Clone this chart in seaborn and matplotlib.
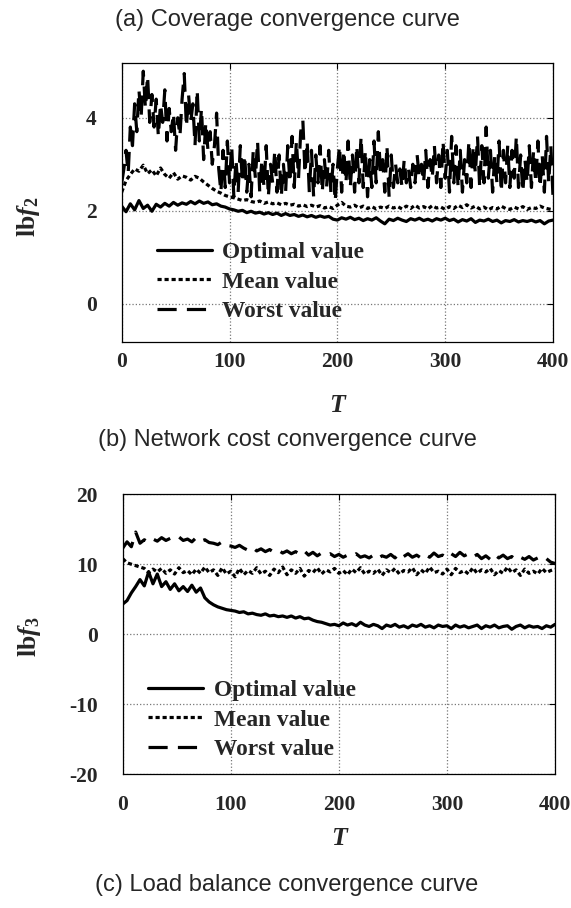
import numpy as np
import pandas as pd
import matplotlib
matplotlib.use("Agg")
import matplotlib.pyplot as plt
import seaborn as sns

# ---------------- data ----------------
T_MAX = 400
labels = ["Optimal value", "Mean value", "Worst value"]

# (a) lb f2 -- coverage
a_optimal = [2.10, 1.98, 2.15, 2.02, 2.22, 2.05, 2.12, 1.99, 2.14, 2.08,
             2.16, 2.10, 2.18, 2.12, 2.17, 2.14, 2.20, 2.15, 2.21, 2.16,
             2.19, 2.13, 2.15, 2.10, 2.08, 2.04, 2.02, 1.99, 2.01, 1.96,
             1.99, 1.95, 1.97, 1.93, 1.96, 1.92, 1.95, 1.90, 1.94, 1.90,
             1.92, 1.88, 1.91, 1.87, 1.90, 1.86, 1.89, 1.86, 1.88, 1.82,
             1.80, 1.85, 1.82, 1.86, 1.81, 1.84, 1.79, 1.83, 1.80, 1.85,
             1.78, 1.72, 1.82, 1.79, 1.84, 1.80, 1.77, 1.83, 1.80, 1.84,
             1.79, 1.82, 1.78, 1.83, 1.80, 1.84, 1.79, 1.82, 1.76, 1.81,
             1.78, 1.83, 1.75, 1.80, 1.78, 1.82, 1.77, 1.80, 1.74, 1.79,
             1.77, 1.81, 1.76, 1.79, 1.77, 1.80, 1.76, 1.79, 1.72, 1.78,
             1.80]
a_mean = [2.40, 2.65, 2.78, 2.90, 2.85, 2.98, 2.80, 2.88, 2.75, 2.92,
          2.78, 2.70, 2.82, 2.68, 2.75, 2.72, 2.66, 2.74, 2.70, 2.62,
          2.55, 2.48, 2.42, 2.38, 2.33, 2.30, 2.28, 2.25, 2.22, 2.24,
          2.20, 2.18, 2.21, 2.16, 2.19, 2.15, 2.17, 2.13, 2.16, 2.12,
          2.14, 2.10, 2.13, 2.09, 2.12, 2.08, 2.11, 2.06, 2.09, 2.05,
          2.12, 2.18, 2.10, 2.08, 2.12, 2.06, 2.10, 2.05, 2.09, 2.04,
          2.08, 2.05, 2.10, 2.06, 2.09, 2.04, 2.10, 2.05, 2.12, 2.06,
          2.09, 2.04, 2.11, 2.06, 2.08, 2.03, 2.09, 2.05, 2.12, 2.07,
          2.13, 2.06, 2.10, 2.04, 2.08, 2.02, 2.07, 2.04, 2.10, 2.05,
          2.03, 2.08, 2.04, 2.09, 2.03, 2.07, 2.05, 2.10, 2.06, 2.04,
          2.02]
a_worst = [2.6, 2.9, 3.3, 2.8, 3.8, 3.4, 4.3, 3.7, 4.6, 4.0,
           5.0, 4.2, 4.9, 3.9, 4.5, 3.8, 4.4, 3.6, 4.3, 3.9,
           4.6, 3.5, 4.2, 3.7, 4.1, 3.3, 4.0, 3.6, 4.4, 4.95,
           3.8, 4.5, 3.9, 4.3, 3.4, 4.6, 3.5, 4.2, 3.1, 3.9,
           3.3, 3.7, 3.0, 3.4, 4.1,
           2.9, 2.4, 3.3, 2.5, 3.5, 2.6, 3.4, 2.3, 3.1, 2.4,
           3.4, 2.6, 3.2, 2.4, 3.0, 2.3, 3.3, 2.7, 3.5, 2.4,
           3.1, 2.5, 3.4, 2.3, 3.0, 2.6, 3.3, 2.4, 3.2, 2.3,
           3.0, 2.4, 3.4, 2.6, 3.6, 2.5, 3.5, 2.7, 3.7, 3.95,
           2.8, 3.5, 2.4, 3.3, 2.3, 3.2, 2.6, 3.4, 2.4, 3.1,
           2.5, 3.3, 2.4, 3.0, 2.2, 2.9, 3.4, 2.4, 3.3, 2.6,
           3.5, 2.5, 3.2, 2.4, 3.4, 2.6, 3.6, 2.5, 3.3, 2.3,
           3.1, 2.5, 3.5, 2.6, 3.7, 2.8, 3.1, 2.4, 3.4, 2.3,
           3.2, 2.5, 3.0, 2.6, 2.9, 2.5, 3.1, 2.6, 2.9, 2.5,
           3.0, 2.6, 3.2, 2.7, 3.0, 2.6, 3.3, 2.5, 3.1, 2.7,
           3.4, 2.6, 3.2, 2.5, 3.5, 2.7, 3.3, 2.4, 3.6, 2.6,
           3.4, 2.5, 3.3, 2.4, 3.1, 2.6, 3.5, 2.5, 3.4, 2.8,
           3.6, 2.5, 3.4, 2.6, 3.8, 2.7, 3.3, 2.4, 3.2, 2.6,
           3.5, 2.4, 3.3, 2.6, 3.4, 2.5, 3.3, 2.7, 3.6, 2.5,
           3.2, 2.4, 3.1, 2.6, 3.4, 2.5, 3.3, 2.6, 3.5, 2.5,
           3.2, 2.4, 3.6, 2.6, 3.4, 2.3]

# (b) lb f3 -- network cost
b_optimal = [4.3, 4.8, 5.9, 6.8, 7.8, 6.9, 8.9, 7.2, 8.6, 6.8,
             7.5, 6.4, 7.2, 6.2, 6.8, 6.1, 7.0, 6.0, 6.6, 5.2,
             4.6, 4.2, 3.9, 3.7, 3.5, 3.4, 3.3, 3.1, 3.2, 2.9,
             3.0, 2.8, 2.7, 2.9, 2.6, 2.7, 2.5, 2.6, 2.4, 2.6,
             2.3, 2.5, 2.2, 2.3, 2.0, 1.8, 1.7, 1.5, 1.3, 1.4,
             1.2, 1.6, 1.3, 1.5, 1.2, 1.7, 1.3, 1.1, 1.4, 1.2,
             0.8, 1.3, 1.1, 1.4, 1.0, 1.2, 0.9, 1.3, 1.1, 1.4,
             1.0, 1.2, 0.9, 1.3, 1.1, 1.2, 0.8, 1.3, 1.0, 1.2,
             0.9, 1.1, 1.3, 0.8, 1.2, 1.0, 1.3, 0.9, 1.1, 1.2,
             0.7, 1.1, 1.3, 0.9, 1.2, 1.0, 1.1, 0.8, 1.2, 1.0,
             1.4]
b_mean = [10.8, 10.2, 10.0, 9.8, 9.6, 9.4, 8.8, 9.3, 8.9, 9.4,
          8.7, 9.2, 8.6, 9.5, 8.8, 9.1, 8.5, 9.3, 8.7, 9.6,
          8.8, 9.2, 8.4, 9.5, 8.6, 9.0, 8.2, 9.4, 8.5, 9.1,
          8.7, 9.5, 8.6, 9.0, 8.4, 9.3, 8.8, 9.6, 8.5, 9.2,
          8.7, 9.4, 8.3, 9.1, 8.8, 9.5, 8.6, 9.2, 8.9, 9.4,
          8.7, 9.1, 8.5, 9.3, 8.8, 9.5, 8.6, 9.0, 8.7, 9.3,
          8.4, 9.2, 8.8, 9.4, 8.6, 9.1, 8.9, 9.5, 8.5, 9.2,
          8.7, 9.6, 8.8, 9.0, 8.6, 9.3, 8.5, 9.4, 8.8, 9.1,
          8.6, 9.5, 8.7, 9.2, 8.9, 9.4, 8.5, 9.1, 8.7, 9.6,
          8.8, 9.2, 8.4, 9.3, 8.7, 9.0, 8.6, 9.4, 8.8, 9.1,
          9.3]
b_worst = [12.3, 13.2, 12.5, 14.6, 13.0, 13.5, 13.1, 13.6, 13.3, 13.8,
           13.4, 13.7, 13.5, 13.9, 13.4, 13.6, 13.2, 13.8, 13.3, 13.5,
           13.1, 13.0, 12.8, 13.2, 12.7, 12.6, 12.4, 12.7, 12.3, 12.0,
           12.4, 11.9, 12.2, 11.8, 12.1, 11.7, 12.0, 11.6, 11.9, 11.5,
           11.8, 11.4, 11.9, 11.3, 11.7, 11.2, 11.6, 11.3, 11.5, 11.1,
           11.4, 11.0, 11.3, 11.1, 11.5, 11.0, 11.2, 10.9, 11.3, 10.8,
           11.2, 11.0, 11.4, 10.9, 11.6, 11.1, 11.5, 11.0, 11.3, 10.9,
           11.4, 11.0, 11.6, 11.1, 11.3, 10.9, 11.5, 11.1, 11.7, 11.2,
           11.5, 11.0, 11.4, 10.8, 11.2, 10.7, 11.4, 10.9, 11.3, 10.8,
           11.1, 10.6, 11.0, 10.7, 11.1, 10.6, 10.9, 10.5, 10.8, 10.3,
           10.1]

x_ticks = [0, 100, 200, 300, 400]
a_yticks = [0, 2, 4]
b_yticks = [-20, -10, 0, 10, 20]

# ---------------- style ----------------
sns.set_theme(style="white")
plt.rcParams["font.family"] = ["Liberation Serif", "DejaVu Serif"]
plt.rcParams["mathtext.fontset"] = "custom"
plt.rcParams["mathtext.rm"] = "Liberation Serif:bold"
plt.rcParams["mathtext.bf"] = "Liberation Serif:bold"
plt.rcParams["mathtext.it"] = "Liberation Serif:italic:bold"
plt.rcParams["mathtext.bfit"] = "Liberation Serif:italic:bold"

W, H = 571, 908
fig = plt.figure(figsize=(W / 100, H / 100), dpi=100)

def px_axes(l, t, r, b):
    return fig.add_axes([l / W, 1 - b / H, (r - l) / W, (b - t) / H])

ax_a = px_axes(121.7, 63.3, 553, 342)
ax_b = px_axes(122.7, 494.3, 555, 774)

LW = 2.3
styles = {
    "Optimal value": "-",
    "Mean value": (0, (1.3, 0.9)),
    "Worst value": (0, (6.0, 3.2)),
}

TICK_FS = 15.5
LEG_FS = 16.8
LAB_FS = 18.5

def draw(ax, series, ylim, yticks, ylab, xtick_pad, leg_anchor, ylabel_y, xlabel_y):
    for name, vals in zip(labels, series):
        xs = np.linspace(0, T_MAX, len(vals))
        df = pd.DataFrame({"T": xs, "v": vals})
        sns.lineplot(data=df, x="T", y="v", ax=ax, color="black", linewidth=LW,
                     linestyle=styles[name], label=name, estimator=None, sort=False)
    ax.set_xlim(0, T_MAX)
    ax.set_ylim(*ylim)
    ax.set_xticks(x_ticks)
    ax.set_yticks(yticks)
    ax.set_xticklabels([str(v) for v in x_ticks], fontsize=TICK_FS, fontweight="bold")
    ax.set_yticklabels([str(v) for v in yticks], fontsize=TICK_FS, fontweight="bold")
    ax.grid(True, linestyle=":", color="#777777", linewidth=0.9)
    ax.tick_params(direction="in", length=4, width=0.8, top=True, right=True,
                   color="black")
    ax.tick_params(axis="x", pad=xtick_pad)
    ax.tick_params(axis="y", pad=18)
    for s in ax.spines.values():
        s.set_color("black")
        s.set_linewidth(0.9)
    ax.set_xlabel("T", fontsize=LAB_FS, fontweight="bold", fontstyle="italic")
    ax.set_ylabel(ylab, fontsize=LAB_FS)
    ax.yaxis.set_label_coords(-0.185, ylabel_y)
    ax.xaxis.set_label_coords(0.5, xlabel_y)
    leg = ax.legend(loc="upper left", bbox_to_anchor=leg_anchor, frameon=False,
                    prop={"family": "Liberation Serif", "weight": "bold", "size": LEG_FS},
                    handlelength=2.35, handletextpad=0.45, labelspacing=0.35,
                    borderaxespad=0, borderpad=0)
    for h in leg.get_lines():
        h.set_linewidth(LW)

draw(ax_a, [a_optimal, a_mean, a_worst], (-0.82, 5.17), a_yticks,
     r"$\mathbf{lb}\mathbfit{f}_{\mathbf{2}}$", 7, (0.082, 0.36), 0.45, -0.185)
draw(ax_b, [b_optimal, b_mean, b_worst], (-20, 20), b_yticks,
     r"$\mathbf{lb}\mathbfit{f}_{\mathbf{3}}$", 15, (0.059, 0.337), 0.49, -0.19)

title_kw = dict(ha="center", va="center", fontsize=17, family="Liberation Sans")
fig.text(287 / W, 1 - 20 / H, "(a) Coverage convergence curve", **title_kw)
fig.text(287 / W, 1 - 440 / H, "(b) Network cost convergence curve", **title_kw)
fig.text(287 / W, 1 - 885 / H, "(c) Load balance convergence curve", **title_kw)

fig.savefig("out.png", dpi=100)
